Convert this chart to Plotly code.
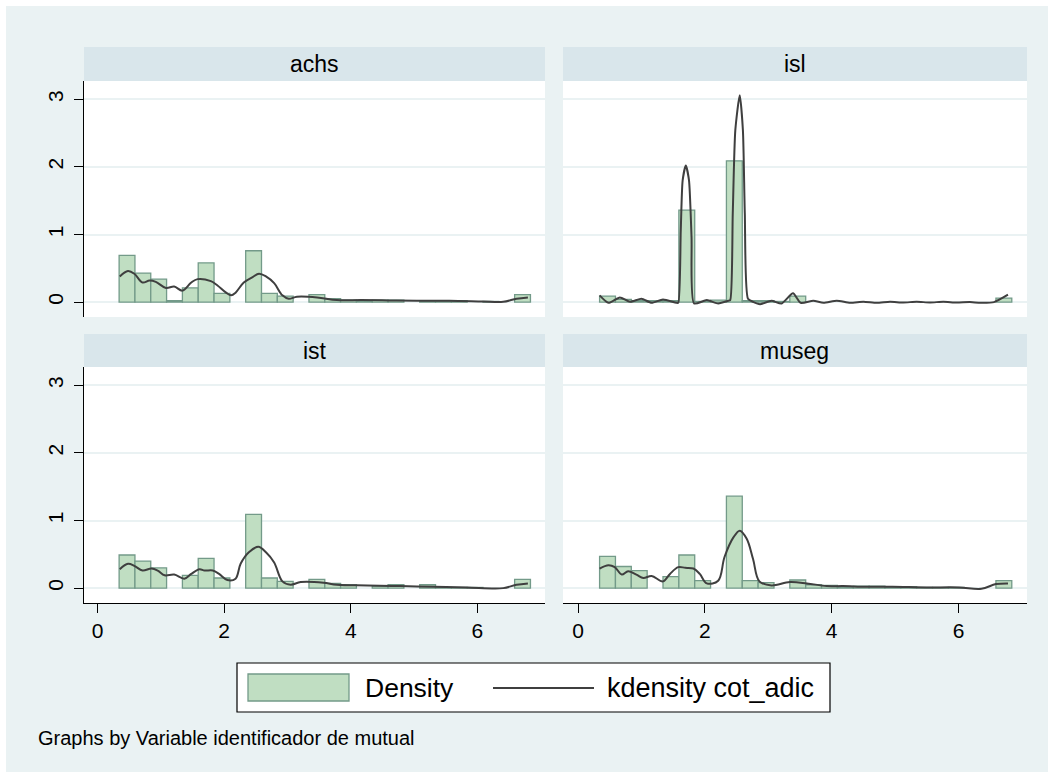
import plotly.graph_objects as go

W, H = 1048, 772

# ---------------- data ----------------
panel_names = ["achs", "isl", "ist", "museg"]

bin_centers = [0.465, 0.715, 0.965, 1.215, 1.465, 1.715, 1.965, 2.215, 2.465, 2.715,
               2.965, 3.215, 3.465, 3.715, 3.965, 4.215, 4.465, 4.715, 4.965, 5.215,
               5.465, 5.715, 5.965, 6.215, 6.465, 6.715]
bin_width = 0.25

achs_density = [0.69, 0.43, 0.34, 0.02, 0.21, 0.58, 0.13, None, 0.76, 0.13,
                0.09, None, 0.11, 0.05, 0.03, 0.02, 0.03, 0.03, None, 0.02,
                0.02, 0.02, None, 0.01, None, 0.11]
isl_density = [0.09, 0.04, 0.02, 0.02, 0.02, 1.36, 0.01, 0.03, 2.09, 0.02,
               0.02, 0.01, 0.09, None, None, None, None, None, None, None,
               None, None, None, None, None, 0.06]
ist_density = [0.49, 0.40, 0.30, None, 0.19, 0.44, 0.15, None, 1.09, 0.15,
               0.10, None, 0.13, 0.07, 0.05, None, 0.03, 0.05, None, 0.05,
               0.01, 0.01, 0.01, None, None, 0.13]
museg_density = [0.47, 0.32, 0.26, None, 0.17, 0.49, 0.11, None, 1.36, 0.11,
                 0.08, None, 0.12, 0.05, 0.04, 0.02, 0.03, 0.03, 0.01, 0.02,
                 0.01, 0.01, 0.01, None, None, 0.11]

achs_kx = [0.35, 0.48, 0.58, 0.71, 0.82, 0.92, 1.08, 1.21, 1.34, 1.48, 1.58, 1.79, 1.89,
           2.03, 2.11, 2.18, 2.31, 2.45, 2.55, 2.66, 2.79, 2.92, 3.02, 3.15, 3.47, 3.78,
           4.17, 4.60, 5.04, 5.56, 6.09, 6.41, 6.62, 6.80]
achs_ky = [0.38, 0.46, 0.42, 0.29, 0.32, 0.30, 0.21, 0.23, 0.17, 0.29, 0.34, 0.31, 0.25,
           0.14, 0.10, 0.14, 0.29, 0.37, 0.42, 0.38, 0.28, 0.10, 0.05, 0.08, 0.07, 0.03,
           0.03, 0.025, 0.02, 0.02, 0.01, 0.005, 0.05, 0.07]

isl_kx = [0.34, 0.48, 0.66, 0.82, 1.00, 1.16, 1.34, 1.55, 1.58, 1.62, 1.65, 1.70, 1.75,
          1.79, 1.83, 2.03, 2.21, 2.37, 2.40, 2.44, 2.48, 2.55, 2.60, 2.63, 2.68, 2.76,
          2.87, 3.05, 3.21, 3.39, 3.51, 3.71, 3.87, 4.08, 4.29, 4.50, 4.71, 4.92, 5.13,
          5.34, 5.55, 5.76, 5.97, 6.18, 6.35, 6.56, 6.78]
isl_ky = [0.10, -0.01, 0.07, 0.005, 0.05, -0.01, 0.04, -0.01, -0.01, 1.06, 1.80, 2.02, 1.80,
          0.96, -0.02, 0.03, -0.02, 0.02, 0.03, 1.31, 2.54, 3.06, 2.54, 1.31, 0.05, 0.005,
          -0.03, 0.02, -0.02, 0.13, -0.01, 0.02, -0.01, 0.02, -0.01, 0.005, -0.01, 0.005, -0.005,
          0.005, -0.005, 0.005, -0.005, 0.0, -0.01, 0.0, 0.11]

ist_kx = [0.35, 0.48, 0.58, 0.71, 0.85, 0.95, 1.06, 1.21, 1.37, 1.48, 1.61, 1.69, 1.82,
          1.92, 2.05, 2.18, 2.26, 2.39, 2.54, 2.66, 2.79, 2.92, 3.05, 3.21, 3.57, 3.78,
          4.26, 4.78, 5.31, 5.83, 6.41, 6.62, 6.80]
ist_ky = [0.28, 0.36, 0.33, 0.26, 0.29, 0.26, 0.19, 0.20, 0.14, 0.21, 0.28, 0.26, 0.26,
          0.21, 0.12, 0.14, 0.36, 0.53, 0.61, 0.53, 0.38, 0.10, 0.05, 0.09, 0.08, 0.05,
          0.04, 0.03, 0.02, 0.01, 0.0, 0.05, 0.07]

museg_kx = [0.34, 0.48, 0.58, 0.69, 0.79, 0.92, 1.03, 1.16, 1.34, 1.45, 1.58, 1.69, 1.82,
            1.92, 2.03, 2.21, 2.31, 2.45, 2.55, 2.66, 2.76, 2.86, 3.05, 3.34, 3.61, 3.92,
            4.18, 4.54, 4.96, 5.49, 6.01, 6.36, 6.59, 6.78]
museg_ky = [0.29, 0.34, 0.31, 0.20, 0.25, 0.20, 0.15, 0.18, 0.10, 0.21, 0.31, 0.30, 0.29,
            0.21, 0.07, 0.11, 0.46, 0.75, 0.85, 0.73, 0.43, 0.10, 0.04, 0.09, 0.07, 0.03,
            0.03, 0.02, 0.02, 0.01, 0.01, -0.01, 0.06, 0.07]

x_ticks = [0, 2, 4, 6]
y_ticks = [0, 1, 2, 3]
legend_labels = ["Density", "kdensity cot_adic"]
caption = "Graphs by Variable identificador de mutual"

# ---------------- style ----------------
FONT = "Liberation Sans, Arial, Helvetica, sans-serif"
BG = "#EAF2F3"
STRIP = "#D9E6EB"
GRID = "#EAF2F3"
BAR_FILL = "#C0DEC2"
BAR_LINE = "#739A89"
KDE_COL = "#3F3F3F"


def px(x):
    return x / W


def py(y):
    return 1 - y / H


# panel boxes in pixels: (left, top, right, bottom)
boxes = [(84, 81, 545, 317), (563, 81, 1027, 317),
         (84, 367, 545, 603), (563, 367, 1027, 603)]
strips = [(47, 81), (47, 81), (334, 367), (334, 367)]
x_ranges = [[-0.215, 7.07], [-0.237, 7.08], [-0.215, 7.07], [-0.237, 7.08]]
y_range = [-0.22, 3.27]

densities = [achs_density, isl_density, ist_density, museg_density]
kdes = [(achs_kx, achs_ky), (isl_kx, isl_ky), (ist_kx, ist_ky), (museg_kx, museg_ky)]
smooth = [1.0, 0.6, 1.0, 1.0]

fig = go.Figure()
layout = dict(
    width=W, height=H,
    margin=dict(l=0, r=0, t=0, b=0),
    paper_bgcolor=BG, plot_bgcolor="white",
    showlegend=False,
    font=dict(family=FONT, color="black", size=20),
)

shapes = []
annotations = []

# white outer border strips
shapes.append(dict(type="rect", xref="paper", yref="paper", x0=0, x1=px(6), y0=0, y1=1,
                   fillcolor="white", line=dict(width=0), layer="below"))
shapes.append(dict(type="rect", xref="paper", yref="paper", x0=0, x1=1, y0=py(6), y1=1,
                   fillcolor="white", line=dict(width=0), layer="below"))

for i in range(4):
    n = i + 1
    xa = "x" if n == 1 else f"x{n}"
    ya = "y" if n == 1 else f"y{n}"
    l, t, r, b = boxes[i]
    bottom_row = i >= 2
    left_col = i % 2 == 0

    fig.add_trace(go.Bar(
        x=bin_centers, y=densities[i], width=bin_width,
        marker=dict(color=BAR_FILL, line=dict(color=BAR_LINE, width=1.3)),
        xaxis=xa, yaxis=ya, hoverinfo="skip",
    ))
    kx, ky = kdes[i]
    fig.add_trace(go.Scatter(
        x=kx, y=ky, mode="lines",
        line=dict(color=KDE_COL, width=2, shape="spline", smoothing=smooth[i]),
        xaxis=xa, yaxis=ya, hoverinfo="skip",
    ))

    xkey = "xaxis" if n == 1 else f"xaxis{n}"
    ykey = "yaxis" if n == 1 else f"yaxis{n}"
    layout[xkey] = dict(
        domain=[px(l), px(r)], anchor=ya, range=x_ranges[i],
        showgrid=False, zeroline=False,
        showline=bottom_row, linecolor="black", linewidth=1.2,
        ticks="outside" if bottom_row else "", ticklen=9, tickcolor="black", tickwidth=1,
        tickvals=x_ticks, showticklabels=bottom_row,
        tickfont=dict(family=FONT, size=21, color="black"),
    )
    layout[ykey] = dict(
        domain=[py(b), py(t)], anchor=xa, range=y_range,
        showgrid=True, gridcolor=GRID, gridwidth=1.5, zeroline=False,
        showline=left_col, linecolor="black", linewidth=1.2,
        ticks="outside" if left_col else "", ticklen=9, tickcolor="black", tickwidth=1,
        tickvals=y_ticks, showticklabels=left_col, tickangle=-90,
        ticklabelstandoff=3,
        tickfont=dict(family=FONT, size=21, color="black"),
    )

    s0, s1 = strips[i]
    shapes.append(dict(type="rect", xref="paper", yref="paper",
                       x0=px(l), x1=px(r), y0=py(s1), y1=py(s0),
                       fillcolor=STRIP, line=dict(width=0), layer="below"))
    annotations.append(dict(text=panel_names[i], xref="paper", yref="paper",
                            x=px((l + r) / 2), y=py((s0 + s1) / 2),
                            xanchor="center", yanchor="middle", showarrow=False,
                            font=dict(family=FONT, size=23, color="black")))

# legend (drawn box)
shapes.append(dict(type="rect", xref="paper", yref="paper",
                   x0=px(237), x1=px(830), y0=py(712), y1=py(663),
                   fillcolor="white", line=dict(color="black", width=1.2)))
shapes.append(dict(type="rect", xref="paper", yref="paper",
                   x0=px(248), x1=px(349), y0=py(701), y1=py(674),
                   fillcolor=BAR_FILL, line=dict(color=BAR_LINE, width=1.3)))
shapes.append(dict(type="line", xref="paper", yref="paper",
                   x0=px(493), x1=px(594), y0=py(688), y1=py(688),
                   line=dict(color=KDE_COL, width=2)))
annotations.append(dict(text=legend_labels[0], xref="paper", yref="paper",
                        x=px(363), y=py(688), xanchor="left", yanchor="middle",
                        showarrow=False, font=dict(family=FONT, size=26.5, color="black")))
annotations.append(dict(text=legend_labels[1], xref="paper", yref="paper",
                        x=px(605), y=py(688), xanchor="left", yanchor="middle",
                        showarrow=False, font=dict(family=FONT, size=27, color="black")))
annotations.append(dict(text=caption, xref="paper", yref="paper",
                        x=px(36), y=py(738), xanchor="left", yanchor="middle",
                        showarrow=False, font=dict(family=FONT, size=20, color="black")))

layout["shapes"] = shapes
layout["annotations"] = annotations
fig.update_layout(**layout)

fig.write_html("out.html", config={"displayModeBar": False})
